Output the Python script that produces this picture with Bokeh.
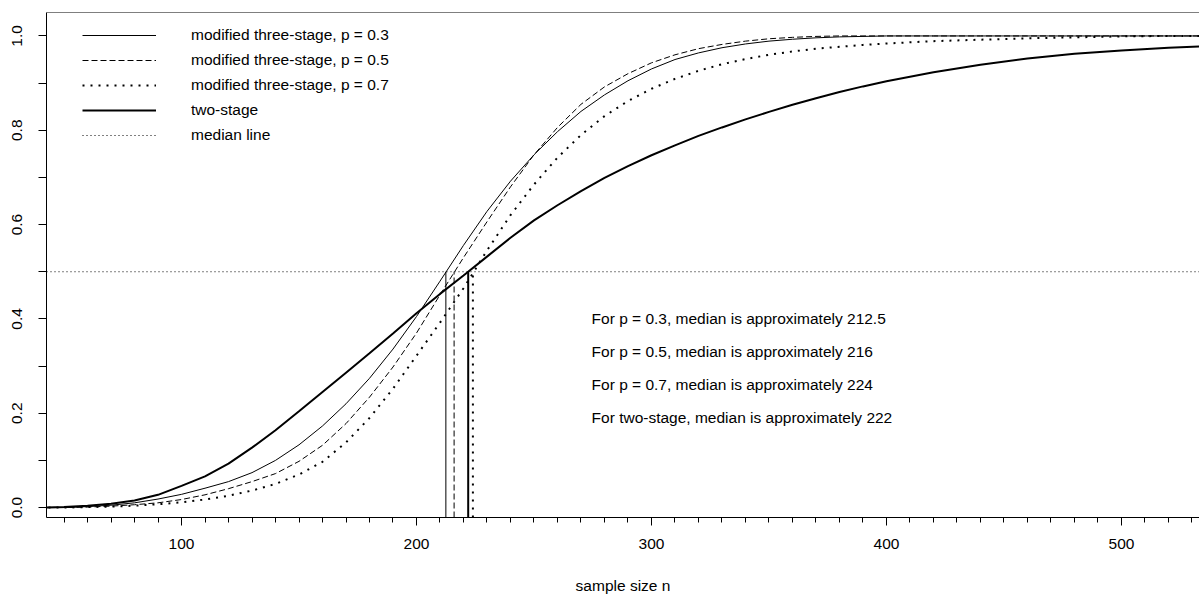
from bokeh.plotting import figure
from bokeh.models import Range1d, FixedTicker, Legend, LegendItem, Span, PrintfTickFormatter
from bokeh.core.properties import value
from bokeh.embed import file_html
from bokeh.resources import INLINE

# ---------------- data ----------------
n = [40, 50, 60, 70, 80, 90, 100, 110, 120, 130, 140, 150, 160, 170, 180, 190,
     200, 210, 220, 230, 240, 250, 260, 270, 280, 290, 300, 310, 320, 330, 340,
     350, 360, 370, 380, 390, 400, 420, 440, 460, 480, 500, 520, 540, 560]

three_p03 = [0.000, 0.000, 0.002, 0.005, 0.010, 0.018, 0.028, 0.041, 0.055, 0.074,
             0.100, 0.133, 0.173, 0.220, 0.274, 0.336, 0.405, 0.480, 0.556, 0.628,
             0.692, 0.748, 0.797, 0.840, 0.875, 0.905, 0.930, 0.950, 0.964, 0.975,
             0.983, 0.989, 0.993, 0.996, 0.998, 0.999, 1.000, 1.000, 1.000, 1.000,
             1.000, 1.000, 1.000, 1.000, 1.000]

three_p05 = [0.000, 0.000, 0.001, 0.003, 0.006, 0.010, 0.017, 0.027, 0.040, 0.055,
             0.072, 0.098, 0.132, 0.178, 0.234, 0.298, 0.370, 0.451, 0.530, 0.606,
             0.680, 0.748, 0.806, 0.855, 0.892, 0.920, 0.943, 0.960, 0.973, 0.982,
             0.989, 0.994, 0.997, 0.999, 1.000, 1.000, 1.000, 1.000, 1.000, 1.000,
             1.000, 1.000, 1.000, 1.000, 1.000]

three_p07 = [0.000, 0.000, 0.001, 0.002, 0.004, 0.007, 0.011, 0.017, 0.025, 0.036,
             0.050, 0.070, 0.097, 0.138, 0.190, 0.252, 0.322, 0.392, 0.465, 0.545,
             0.620, 0.685, 0.742, 0.790, 0.830, 0.862, 0.888, 0.909, 0.926, 0.940,
             0.951, 0.960, 0.967, 0.973, 0.977, 0.981, 0.984, 0.989, 0.992, 0.995,
             0.997, 0.999, 1.000, 1.000, 1.000]

two_stage = [0.000, 0.001, 0.004, 0.008, 0.015, 0.027, 0.046, 0.066, 0.093, 0.127,
             0.164, 0.204, 0.245, 0.286, 0.327, 0.369, 0.412, 0.453, 0.492, 0.532,
             0.572, 0.609, 0.641, 0.671, 0.699, 0.724, 0.747, 0.768, 0.788, 0.806,
             0.823, 0.839, 0.854, 0.868, 0.881, 0.893, 0.904, 0.923, 0.939, 0.952,
             0.962, 0.969, 0.975, 0.979, 0.983]

median_level = 0.5
median_p03 = 212.5
median_p05 = 216
median_p07 = 224
median_two = 222

legend_labels = ["modified three-stage, p = 0.3", "modified three-stage, p = 0.5",
                 "modified three-stage, p = 0.7", "two-stage", "median line"]
annot_texts = ["For p = 0.3, median is approximately 212.5",
               "For p = 0.5, median is approximately 216",
               "For p = 0.7, median is approximately 224",
               "For two-stage, median is approximately 222"]
annot_y = [0.40, 0.33, 0.26, 0.19]

x_major = [100, 200, 300, 400, 500]
x_minor = list(range(50, 540, 10))
y_major = [0.0, 0.2, 0.4, 0.6, 0.8, 1.0]
y_minor = [0.1, 0.3, 0.5, 0.7, 0.9]

# ---------------- figure ----------------
FONT = "Liberation Sans"
FS = "15.5px"
XMIN, XMAX = 42.55, 533.2
YMIN, YMAX = -0.0211, 1.0497

p = figure(width=1199, height=596, output_backend="svg", toolbar_location=None,
           x_range=Range1d(XMIN, XMAX), y_range=Range1d(YMIN, YMAX),
           min_border_left=46, min_border_right=0, min_border_top=12, min_border_bottom=77,
           x_axis_label="sample size n")
p.xgrid.visible = False
p.ygrid.visible = False
p.outline_line_color = None
p.background_fill_color = "white"
p.border_fill_color = "white"

# top frame line
p.add_layout(Span(location=YMAX, dimension="width", line_color="black", line_width=1))

# axes
for ax in (p.xaxis[0], p.yaxis[0]):
    ax.axis_line_color = "black"
    ax.major_tick_line_color = "black"
    ax.minor_tick_line_color = "black"
    ax.major_tick_in = 0
    ax.minor_tick_in = 0
    ax.major_tick_out = 8
    ax.major_label_text_font = FONT
    ax.major_label_text_font_size = FS
    ax.major_label_text_color = "black"

p.xaxis.ticker = FixedTicker(ticks=x_major, minor_ticks=x_minor)
p.xaxis.minor_tick_out = 5
p.xaxis.major_label_standoff = 13
p.xaxis.axis_label_standoff = 25
p.xaxis.axis_label_text_font = FONT
p.xaxis.axis_label_text_font_size = FS
p.xaxis.axis_label_text_font_style = "normal"
p.xaxis.axis_label_text_color = "black"

p.yaxis.ticker = FixedTicker(ticks=y_major, minor_ticks=y_minor)
p.yaxis.formatter = PrintfTickFormatter(format="%.1f")
p.yaxis.minor_tick_out = 8
p.yaxis.major_label_orientation = "vertical"
p.yaxis.major_label_standoff = 16

# ---------------- curves ----------------
r1 = p.line(n, three_p03, line_color="black", line_width=1)
r2 = p.line(n, three_p05, line_color="black", line_width=1, line_dash="6 3")
r3 = p.line(n, three_p07, line_color="black", line_width=2, line_dash="2 6")
r4 = p.line(n, two_stage, line_color="black", line_width=2)
r5 = p.line([XMIN, XMAX], [median_level, median_level], line_color="black",
            line_width=1, line_dash="1 3")

# median verticals
p.segment(x0=[median_p03], y0=[YMIN], x1=[median_p03], y1=[median_level],
          line_color="black", line_width=1)
p.segment(x0=[median_p05], y0=[YMIN], x1=[median_p05], y1=[median_level],
          line_color="black", line_width=1, line_dash="6 3")
p.segment(x0=[median_p07], y0=[YMIN], x1=[median_p07], y1=[median_level],
          line_color="black", line_width=2, line_dash="2 6")
p.segment(x0=[median_two], y0=[YMIN], x1=[median_two], y1=[median_level],
          line_color="black", line_width=2)

# annotations
p.text(x=[274.5] * len(annot_texts), y=annot_y, text=annot_texts,
       text_font=value(FONT), text_font_size=value(FS), text_color="black",
       text_align="left", text_baseline="middle")

# legend
legend = Legend(items=[LegendItem(label=lab, renderers=[r])
                       for lab, r in zip(legend_labels, [r1, r2, r3, r4, r5])],
                location=(36, 372), orientation="vertical", padding=0, margin=0,
                spacing=5, glyph_width=74, glyph_height=20, label_height=20,
                label_standoff=35, label_text_font=FONT, label_text_font_size=FS,
                label_text_color="black", border_line_color=None,
                background_fill_alpha=0)
p.add_layout(legend)

open("out.html", "w").write(file_html(p, INLINE))
